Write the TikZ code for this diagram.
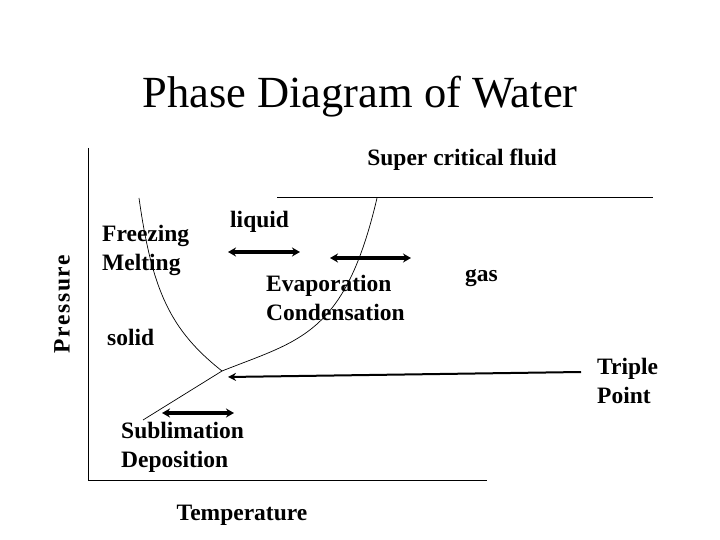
\documentclass[tikz,border=0pt]{standalone}
\usepackage{fontspec}
\setmainfont{Liberation Serif}
\usetikzlibrary{arrows.meta}
\begin{document}
\begin{tikzpicture}[x=1pt, y=-1pt,
        lbl/.style={font=\fontsize{23.5}{29}\selectfont\bfseries, inner sep=0pt, align=left},
        phaseline/.style={line width=0.7pt},
        process/.style={{Stealth[length=8pt,width=9pt]}-{Stealth[length=8pt,width=9pt]}, line width=3.2pt},
        pointer/.style={-{Stealth[length=8pt,width=8pt]}, line width=2pt}]

        \useasboundingbox (0,0) rectangle (720,540);

        % ==================== title ====================
        \node[font=\fontsize{44.5}{52}\selectfont] (title) at (360,97) {Phase Diagram of Water};

        % ==================== axes ====================
        \coordinate (top) at (88,148);
        \coordinate (origin) at (88,480);
        \coordinate (right) at (487,480);
        \draw[phaseline] (top) -- (origin) -- (right);
        \node[lbl, rotate=90] (pres) at (62,304) {\addfontfeature{LetterSpace=7}Pressure};
        \node[lbl] (temp) at (242,515) {Temperature};

        % ==================== phase boundaries ====================
        \coordinate (tp) at (222,371);
        \coordinate (melt) at (139,198);
        \coordinate (crit) at (377,198);
        \coordinate (subl) at (143,420);
        \draw[phaseline] (melt) .. controls (152,290) and (170,330) .. (tp);
        \draw[phaseline] (tp) .. controls (300,340) and (345,335) .. (crit);
        \draw[phaseline] (tp) -- (subl);
        \draw[phaseline] (277,197) -- (653,197);

        % ==================== labels ====================
        \node[lbl] (scf) at (462,160) {Super critical fluid};
        \node[lbl, anchor=west] (liq) at (230,222) {liquid};
        \node[lbl, anchor=west] (gas) at (465,278) {gas};
        \node[lbl, anchor=west] (sol) at (107,337) {solid};
        \node[lbl, anchor=west] (fm) at (102,250) {Freezing\\Melting};
        \node[lbl, anchor=west] (ec) at (266,298) {Evaporation\\Condensation};
        \node[lbl, anchor=west] (sd) at (121,447) {Sublimation\\Deposition};
        \node[lbl, anchor=west] (trip) at (597,381) {Triple\\Point};

        % ==================== process arrows ====================
        \draw[process] (228,252) -- (300,252);
        \draw[process] (330,258) -- (411,258);
        \draw[process] (162,413) -- (234,413);

        % triple point pointer
        \coordinate (tpstart) at (581,372);
        \draw[pointer] (tpstart) -- (228,377);

    \end{tikzpicture}
\end{document}
